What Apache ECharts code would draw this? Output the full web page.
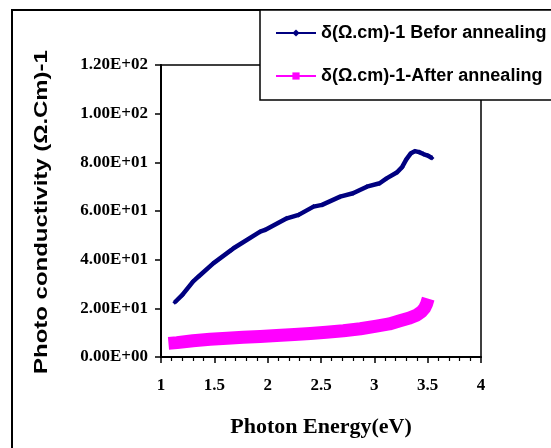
<!DOCTYPE html>
<html>
<head>
<meta charset="utf-8">
<script src="https://cdn.jsdelivr.net/npm/echarts@6/dist/echarts.min.js"></script>
<style>
  html, body { margin: 0; padding: 0; background: #fff; }
  #chart { width: 551px; height: 448px; }
</style>
</head>
<body>
<div id="chart"></div>
<script>
// Photon energy (eV) and photoconductivity before annealing
const beforeEnergy = [1.13, 1.20, 1.30, 1.35, 1.49, 1.66, 1.68, 1.93, 1.975, 2.18, 2.29, 2.43, 2.51, 2.68, 2.80, 2.93, 3.05, 3.115, 3.21, 3.26, 3.30, 3.34, 3.38, 3.42, 3.46, 3.50, 3.54];
const beforeValue  = [22.5, 25.5, 31.0, 33.0, 38.5, 44.0, 44.7, 51.5, 52.2, 57.0, 58.4, 61.8, 62.5, 65.9, 67.3, 70.0, 71.4, 73.4, 75.8, 78.0, 81.2, 83.6, 84.6, 84.2, 83.4, 82.8, 81.8];

// Photon energy (eV) and photoconductivity after annealing
const afterEnergy = [1.07, 1.15, 1.30, 1.46, 1.62, 1.77, 1.93, 2.085, 2.25, 2.40, 2.55, 2.71, 2.87, 3.02, 3.14, 3.24, 3.33, 3.40, 3.44, 3.47, 3.49, 3.505];
const afterValue  = [5.6, 5.9, 6.7, 7.3, 7.7, 8.1, 8.4, 8.8, 9.2, 9.7, 10.2, 10.8, 11.6, 12.7, 13.6, 14.9, 16.0, 17.3, 18.5, 20.0, 21.8, 24.0];

// Axis tick labels
const yTickLabels = ['0.00E+00', '2.00E+01', '4.00E+01', '6.00E+01', '8.00E+01', '1.00E+02', '1.20E+02'];
const xTickLabels = ['1', '1.5', '2', '2.5', '3', '3.5', '4'];

const seriesNames = ['δ(Ω.cm)-1 Befor annealing', 'δ(Ω.cm)-1-After annealing'];
const yTitle = 'Photo conductivity (Ω.Cm)-1';
const xTitle = 'Photon Energy(eV)';

const pairs = (xs, ys) => xs.map((x, i) => [x, ys[i]]);

const chart = echarts.init(document.getElementById('chart'), null, { renderer: 'canvas' });

const serif = '"Liberation Serif", "Times New Roman", serif';
const sans = '"Liberation Sans", Arial, sans-serif';
const tickFont = { fontFamily: serif, fontWeight: 'bold', fontSize: 17, color: '#000' };

chart.setOption({
  animation: false,
  backgroundColor: '#fff',
  grid: {
    left: 161, top: 65, right: 70, bottom: 91,
    show: true, borderColor: '#000', borderWidth: 1.5, backgroundColor: 'transparent'
  },
  xAxis: {
    type: 'value', min: 1, max: 4, interval: 0.5,
    name: xTitle, nameLocation: 'middle', nameGap: 59,
    nameTextStyle: { fontFamily: serif, fontWeight: 'bold', fontSize: 22, color: '#000' },
    axisLine: { show: true, lineStyle: { color: '#000', width: 2 } },
    axisTick: { show: true, inside: false, length: 6, lineStyle: { color: '#000', width: 1.5 } },
    minorTick: { show: true, splitNumber: 5, length: 4, lineStyle: { color: '#000', width: 1.2 } },
    splitLine: { show: false },
    axisLabel: Object.assign({ margin: 20, formatter: v => xTickLabels[Math.round((v - 1) / 0.5)] }, tickFont)
  },
  yAxis: {
    type: 'value', min: 0, max: 120, interval: 20,
    axisLine: { show: true, lineStyle: { color: '#000', width: 2 } },
    axisTick: { show: true, inside: false, length: 6, lineStyle: { color: '#000', width: 1.5 } },
    splitLine: { show: false },
    axisLabel: Object.assign({ margin: 13, formatter: v => yTickLabels[Math.round(v / 20)] }, tickFont)
  },
  graphic: [
    // outer frame
    { type: 'rect', z: 1, silent: true, shape: { x: 12, y: 10, width: 600, height: 500 },
      style: { fill: 'none', stroke: '#000', lineWidth: 2 } },
    // legend box
    { type: 'rect', z: 50, silent: true, shape: { x: 260, y: 10, width: 320, height: 90 },
      style: { fill: '#fff', stroke: '#000', lineWidth: 1.5 } },
    // vertical axis title, stretched along its reading direction
    { type: 'text', z: 5, silent: true, x: 42, y: 212, rotation: Math.PI / 2, scaleX: 1.33,
      style: { text: yTitle, fontFamily: sans, fontWeight: 'bold', fontSize: 18, fill: '#000',
               align: 'center', verticalAlign: 'middle' } }
  ],
  legend: {
    z: 60,
    orient: 'vertical', left: 275, top: 23, padding: 0,
    itemWidth: 40, itemHeight: 9, itemGap: 23,
    lineStyle: { width: 2 },
    textStyle: { fontFamily: sans, fontWeight: 'bold', fontSize: 18, color: '#000', lineHeight: 20 },
    data: seriesNames
  },
  series: [
    {
      name: seriesNames[0], type: 'line', z: 3,
      data: pairs(beforeEnergy, beforeValue),
      symbol: 'diamond', symbolSize: 5, showSymbol: true,
      lineStyle: { color: '#000080', width: 4.5 },
      itemStyle: { color: '#000080' }
    },
    {
      name: seriesNames[1], type: 'line', z: 3,
      data: pairs(afterEnergy, afterValue),
      symbol: 'rect', symbolSize: 12, showSymbol: false,
      lineStyle: { color: '#FF00FF', width: 13, cap: 'butt', join: 'round' },
      itemStyle: { color: '#FF00FF' }
    }
  ]
});
</script>
</body>
</html>
